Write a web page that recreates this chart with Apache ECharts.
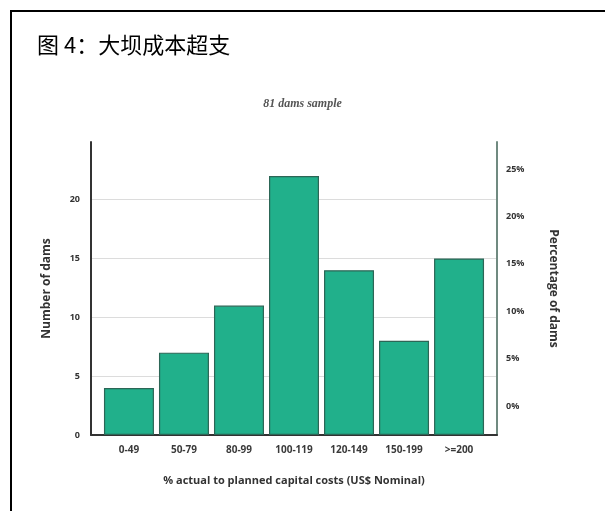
<!DOCTYPE html>
<html>
<head>
<meta charset="utf-8">
<script src="https://cdn.jsdelivr.net/npm/echarts@6/dist/echarts.min.js"></script>
<style>
  html, body { margin: 0; padding: 0; background: #fff; }
  #chart { width: 605px; height: 511px; }
</style>
</head>
<body>
<div id="chart"></div>
<script>
// Cost overrun bins (% of actual to planned capital cost)
const categories = ['0-49', '50-79', '80-99', '100-119', '120-149', '150-199', '>=200'];
// Number of dams in each bin (81 dams in total)
const damCounts = [4, 7, 11, 22, 14, 8, 15];
// Tick labels on the two vertical axes
const countTicks = [0, 5, 10, 15, 20];
const percentTicks = [0, 5, 10, 15, 20, 25];

const titleText = '图 4：大坝成本超支';
const subtitleText = '81 dams sample';

const labelFont = '"Open Sans", "DejaVu Sans", sans-serif';

const chart = echarts.init(document.getElementById('chart'), null, { renderer: 'canvas' });

const barData = damCounts.map((v, i) => [i, v]);

chart.setOption({
  animation: false,
  backgroundColor: '#ffffff',
  title: [
    {
      text: titleText,
      left: 32,
      top: 29,
      textStyle: {
        fontFamily: '"Noto Sans CJK SC", sans-serif',
        fontSize: 22,
        fontWeight: 'normal',
        color: '#000'
      }
    },
    {
      text: subtitleText,
      left: 'center',
      top: 93,
      textStyle: {
        fontFamily: '"Liberation Serif", "DejaVu Serif", serif',
        fontStyle: 'italic',
        fontSize: 12,
        fontWeight: 'bold',
        color: '#555'
      }
    }
  ],
  graphic: [
    // frame: top and left rules
    { type: 'line', shape: { x1: 10, y1: 11, x2: 605, y2: 11 }, style: { stroke: '#000', lineWidth: 2 } },
    { type: 'line', shape: { x1: 11, y1: 10, x2: 11, y2: 511 }, style: { stroke: '#000', lineWidth: 2 } }
  ],
  grid: { left: 91, right: 108, top: 142, bottom: 76 },
  xAxis: {
    type: 'value',
    min: -0.69,
    max: 6.69,
    splitLine: { show: false },
    axisTick: { show: false },
    axisLine: { show: true, onZero: false, lineStyle: { color: '#333', width: 2 } },
    axisLabel: {
      customValues: categories.map((c, i) => i),
      formatter: (v) => categories[Math.round(v)],
      fontFamily: labelFont,
      fontSize: 10,
      fontWeight: 'bold',
      color: '#3a3a3a',
      margin: 10
    },
    name: '% actual to planned capital costs (US$ Nominal)',
    nameLocation: 'middle',
    nameGap: 40,
    nameTextStyle: { fontFamily: labelFont, fontSize: 11, color: '#333', fontWeight: 'bold' }
  },
  yAxis: [
    {
      type: 'value',
      min: 0,
      max: 24.9,
      interval: 5,
      position: 'left',
      axisLine: { show: true, onZero: false, lineStyle: { color: '#333', width: 2 } },
      axisTick: { show: false },
      splitLine: { show: true, showMaxLine: false, showMinLine: false, lineStyle: { color: '#dcdcdc', width: 1 } },
      axisLabel: {
        customValues: countTicks,
        fontFamily: labelFont,
        fontSize: 9,
        fontWeight: 'bold',
        color: '#333',
        margin: 11
      },
      name: 'Number of dams',
      nameLocation: 'middle',
      nameGap: 38,
      nameTextStyle: { fontFamily: labelFont, fontSize: 12, fontWeight: 'bold', color: '#333' }
    },
    {
      type: 'value',
      min: -3.06,
      max: 27.85,
      position: 'right',
      axisLine: { show: true, onZero: false, lineStyle: { color: '#708a80', width: 2 } },
      axisTick: { show: false },
      splitLine: { show: false },
      axisLabel: {
        customValues: percentTicks,
        formatter: '{value}%',
        fontFamily: labelFont,
        fontSize: 9,
        fontWeight: 'bold',
        color: '#333',
        margin: 9
      },
      name: 'Percentage of dams',
      nameLocation: 'middle',
      nameGap: 50,
      nameRotate: -90,
      nameTextStyle: { fontFamily: labelFont, fontSize: 12, fontWeight: 'bold', color: '#333' }
    }
  ],
  series: [
    {
      type: 'bar',
      yAxisIndex: 0,
      data: barData,
      barWidth: 50,
      itemStyle: {
        color: '#21b08b',
        borderColor: '#2c6656',
        borderWidth: 1.2
      }
    }
  ]
});
</script>
</body>
</html>
